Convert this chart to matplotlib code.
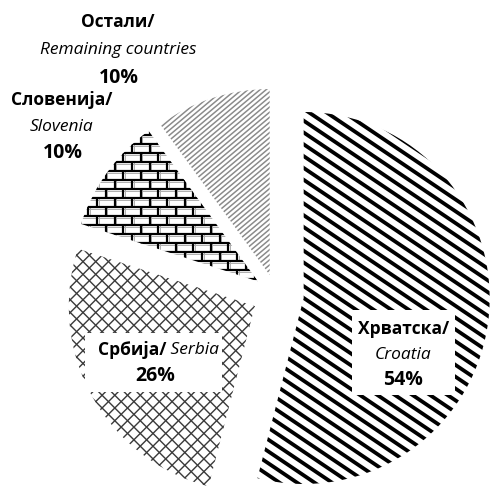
import numpy as np
import matplotlib
matplotlib.use("Agg")
import matplotlib.pyplot as plt
from matplotlib.collections import LineCollection
from matplotlib.patches import Rectangle

plt.rcParams['font.family'] = ['Open Sans', 'DejaVu Sans']

# ---- data ----
names_sr = ["Хрватска/", "Србија/", "Словенија/", "Остали/"]
names_en = ["Croatia", "Serbia", "Slovenia", "Remaining countries"]
values = [54, 26, 10, 10]
explode = [0.15, 0.13, 0.12, 0.11]

W, H = 493, 494
SCALE = 186.0          # pixels per unit radius
CX, CY = 276.0, 294.5  # pie centre in pixels

fig = plt.figure(figsize=(W / 100, H / 100), dpi=100)
ax = fig.add_axes([0, 0, 1, 1])

wedges, _ = ax.pie(values, explode=explode, startangle=90, counterclock=False,
                   radius=1.0, frame=True,
                   wedgeprops=dict(facecolor='white', edgecolor='none', linewidth=0))
ax.set_xlim(-CX / SCALE, (W - CX) / SCALE)
ax.set_ylim(-(H - CY) / SCALE, CY / SCALE)
ax.set_aspect('equal')
ax.axis('off')

PX = 1.0 / SCALE
PT = 0.72  # points per pixel at dpi 100


def stripes(wedge, angle_deg, spacing_px, lw_px, color):
    c = np.array(wedge.center)
    a = np.deg2rad(angle_deg)
    d = np.array([np.cos(a), np.sin(a)])
    n = np.array([-np.sin(a), np.cos(a)])
    s = spacing_px * PX
    L = 1.6
    segs = []
    for k in range(int(-L / s), int(L / s) + 1):
        p = c + n * k * s
        segs.append([p - d * L, p + d * L])
    lc = LineCollection(segs, colors=color, linewidths=lw_px * PT, zorder=3)
    ax.add_collection(lc)
    lc.set_clip_path(wedge)


def bricks(wedge, h_px, w_px, lw_px, color):
    c = np.array(wedge.center)
    h = h_px * PX
    w = w_px * PX
    L = 1.1
    segs = []
    grey = []
    rows = int(2 * L / h) + 2
    for i in range(rows):
        y = c[1] - L + i * h
        segs.append([(c[0] - L, y), (c[0] + L, y)])
        grey.append([(c[0] - L, y - 1.6 * PX), (c[0] + L, y - 1.6 * PX)])
        off = (i % 2) * w / 2
        for j in range(int(2 * L / w) + 2):
            x = c[0] - L + off + j * w
            segs.append([(x, y), (x, y + h)])
            grey.append([(x + 1.6 * PX, y), (x + 1.6 * PX, y + h)])
    lg = LineCollection(grey, colors='#b0b0b0', linewidths=1.0 * PT, zorder=3)
    ax.add_collection(lg)
    lg.set_clip_path(wedge)
    lc = LineCollection(segs, colors=color, linewidths=lw_px * PT, zorder=3)
    ax.add_collection(lc)
    lc.set_clip_path(wedge)


# Croatia: thick black descending stripes
stripes(wedges[0], -34, 9.8, 3.8, 'black')
# Serbia: diamond lattice
stripes(wedges[1], 45, 9.0, 1.4, '#3a3a3a')
stripes(wedges[1], -45, 9.0, 1.4, '#3a3a3a')
# Slovenia: bricks
bricks(wedges[2], 9.0, 17.5, 2.2, 'black')
# Others: fine grey ascending stripes
stripes(wedges[3], 40, 3.9, 1.5, '#8a8a8a')

pct = [f"{round(100 * v / sum(values))}%" for v in values]


def fx(px):
    return px / W


def fy(py):
    return 1 - py / H


FS = 12.5
FP = 14
tkw = dict(transform=ax.transAxes, ha='center', va='center', zorder=6)

# Croatia label (boxed)
ax.add_patch(Rectangle((fx(352), fy(395)), (455 - 352) / W, (395 - 310) / H,
                       transform=ax.transAxes, facecolor='white', edgecolor='none', zorder=5))
ax.text(fx(403.5), fy(329), names_sr[0], fontweight='bold', fontsize=FS, **tkw)
ax.text(fx(403.5), fy(355), names_en[0], style='italic', fontsize=FS, **tkw)
ax.text(fx(403.5), fy(380), pct[0], fontweight='bold', fontsize=FP, **tkw)

# Serbia label (boxed)
ax.add_patch(Rectangle((fx(85), fy(392)), (222 - 85) / W, (392 - 333) / H,
                       transform=ax.transAxes, facecolor='white', edgecolor='none', zorder=5))
ax.text(fx(166), fy(350), names_sr[1], fontweight='bold', transform=ax.transAxes,
        ha='right', va='center', fontsize=FS, zorder=6)
ax.text(fx(166), fy(350), " " + names_en[1], style='italic', transform=ax.transAxes,
        ha='left', va='center', fontsize=FS, zorder=6)
ax.text(fx(155), fy(376), pct[1], fontweight='bold', fontsize=FP, **tkw)

# Slovenia label
ax.text(fx(62), fy(100), names_sr[2], fontweight='bold', fontsize=FS, **tkw)
ax.text(fx(62), fy(127), names_en[2], style='italic', fontsize=FS, **tkw)
ax.text(fx(63), fy(153), pct[2], fontweight='bold', fontsize=FP, **tkw)

# Others label
ax.text(fx(118), fy(22), names_sr[3], fontweight='bold', fontsize=FS, **tkw)
ax.text(fx(118), fy(50), names_en[3], style='italic', fontsize=FS, **tkw)
ax.text(fx(119), fy(78), pct[3], fontweight='bold', fontsize=FP, **tkw)

fig.savefig("out.png", dpi=100, facecolor='white')
